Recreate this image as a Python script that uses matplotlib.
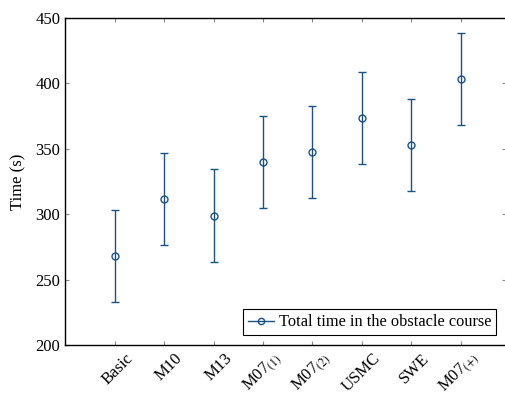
import matplotlib
matplotlib.use("Agg")
import matplotlib.pyplot as plt
import matplotlib.transforms as mtransforms
from matplotlib.lines import Line2D

categories = ["Basic", "M10", "M13", "M07$_{(1)}$", "M07$_{(2)}$", "USMC", "SWE", "M07$_{(+)}$"]
means = [268.0, 311.6, 299.0, 340.0, 347.3, 373.8, 352.9, 403.4]
errors = [35.2, 35.2, 35.2, 35.2, 35.2, 35.2, 35.2, 35.2]

plt.rcParams['font.family'] = ['Liberation Serif', 'DejaVu Serif']
plt.rcParams['mathtext.fontset'] = 'stix'

color = '#1a5283'
fig = plt.figure(figsize=(5.06, 3.94), dpi=100)
ax = fig.add_axes([65/506, 49/394, 441/506, 327/394])
x = list(range(1, len(categories) + 1))
ax.errorbar(x, means, yerr=errors, fmt='o', color=color, mfc='none', mec=color,
            markersize=5, mew=1.0, elinewidth=1.0, capsize=3, capthick=1.0,
            label='Total time in the obstacle course')
ax.set_xlim(-0.01, 8.92)
ax.set_ylim(200, 450)
ax.set_yticks([200, 250, 300, 350, 400, 450])
ax.set_xticks(x)
ax.set_xticklabels([])
offset = mtransforms.ScaledTranslation(16/100, -11/100, fig.dpi_scale_trans)
tr = ax.get_xaxis_transform() + offset
for xi, lab in zip(x, categories):
    ax.text(xi, 0, lab, transform=tr, rotation=45, ha='right', va='center',
            rotation_mode='anchor', fontsize=12, clip_on=False)
ax.tick_params(axis='both', direction='in', top=True, right=True, length=3, color='#888888', labelsize=12)
ax.set_ylabel('Time (s)', fontsize=12, labelpad=6)
for s in ax.spines.values():
    s.set_linewidth(1.0)

h = Line2D([], [], color=color, marker='o', mfc='none', markersize=4.5, lw=1.0)
leg = ax.legend([h], ['Total time in the obstacle course'], loc='lower right', fontsize=11.8,
                fancybox=False, edgecolor='black', framealpha=1, handlelength=1.6,
                borderpad=0.3, handletextpad=0.3, borderaxespad=0.6)
leg.get_frame().set_linewidth(0.8)
fig.savefig('out.png', dpi=100)
